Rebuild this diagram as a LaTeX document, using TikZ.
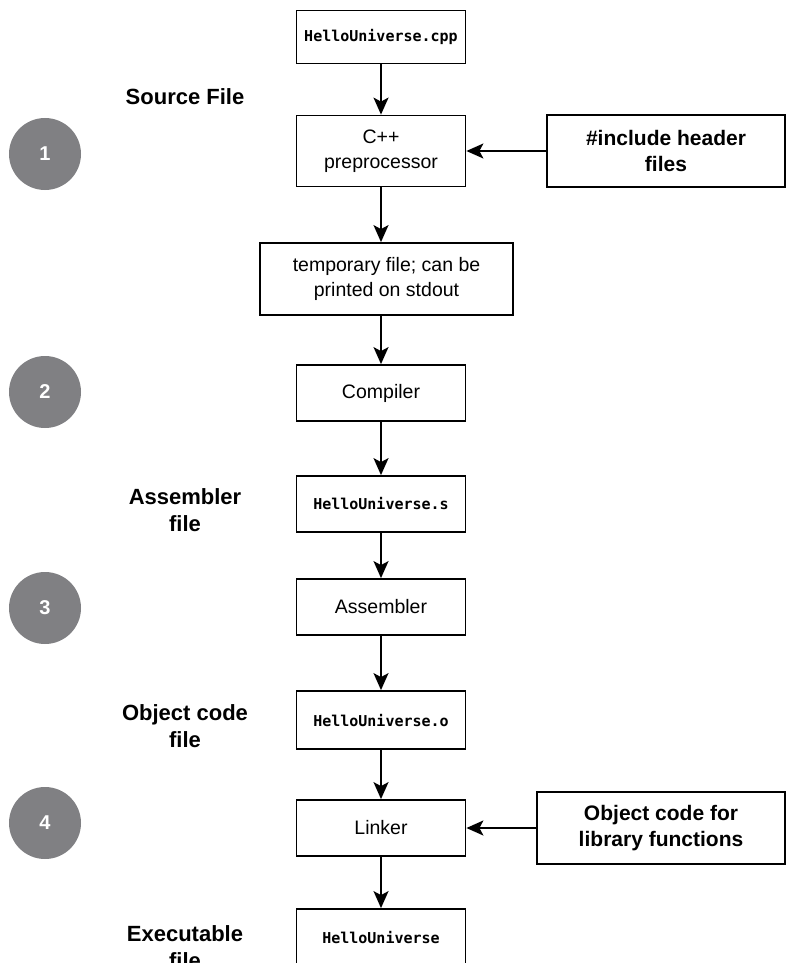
\documentclass[tikz,border=0pt]{standalone}
\usepackage{fontspec}
\setmainfont{Liberation Sans}
\newfontfamily\codefont{DejaVu Sans Mono}
\usetikzlibrary{arrows.meta}
\definecolor{stepgray}{RGB}{128,128,131}

\begin{document}
\begin{tikzpicture}[x=1pt,y=-1pt]
		\tikzset{box/.style = {shape=rectangle,draw,line width=1.8pt,minimum width=169pt,minimum height=56pt,inner sep=0pt,align=center,font=\fontsize{19.5}{25}\selectfont}}
		\tikzset{file/.style = {box,font=\codefont\bfseries\fontsize{15}{17}\selectfont}}
		\tikzset{extbox/.style = {box,font=\bfseries\fontsize{21}{26}\selectfont}}
		\tikzset{label/.style = {align=center,font=\bfseries\fontsize{22}{27}\selectfont}}
		\tikzset{stepno/.style = {shape=circle,fill=stepgray,text=white,minimum size=72pt,inner sep=0pt,font=\bfseries\fontsize{20}{20}\selectfont}}
		\tikzset{edge/.style = {line width=1.8pt,-{Stealth[length=17pt,width=15pt,inset=4pt]}}}
		
		\useasboundingbox (0,0) rectangle (787,963);
		\clip (0,0) rectangle (787,963);
		
		\node[file] (cpp) at (381,37) [minimum height=53pt] {HelloUniverse.cpp};
		\node[box] (pre) at (381,151) [minimum height=71pt] {C++\\preprocessor};
		\node[extbox] (inc) at (666,151) [minimum width=238pt,minimum height=72pt] {\#include header\\files};
		\node[box] (tmp) at (386.5,279) [minimum width=253pt,minimum height=72pt] {temporary file; can be\\printed on stdout};
		\node[box] (cmp) at (381,393) {Compiler};
		\node[file] (asm) at (381,504) {HelloUniverse.s};
		\node[box] (as) at (381,607) {Assembler};
		\node[file] (obj) at (381,720) [minimum height=58pt] {HelloUniverse.o};
		\node[box] (lnk) at (381,828) {Linker};
		\node[extbox] (lib) at (661,828) [minimum width=248pt,minimum height=72pt] {Object code for\\library functions};
		\node[file] (exe) at (381,937) {HelloUniverse};
		
		\node[label] (l1) at (185,97) {Source File};
		\node[label] (l2) at (185,510) {Assembler\\file};
		\node[label] (l3) at (185,726) {Object code\\file};
		\node[label] (l4) at (185,947) {Executable\\file};
		
		\node[stepno] (s1) at (45,154) {1};
		\node[stepno] (s2) at (45,392) {2};
		\node[stepno] (s3) at (45,608) {3};
		\node[stepno] (s4) at (45,823) {4};
		
		\draw[edge] (cpp) to (pre);
		\draw[edge] (inc) to (pre);
		\draw[edge] (pre) to (pre |- tmp.north);
		\draw[edge] (tmp.south -| cmp) to (cmp);
		\draw[edge] (cmp) to (asm);
		\draw[edge] (asm) to (as);
		\draw[edge] (as) to (obj);
		\draw[edge] (obj) to (lnk);
		\draw[edge] (lib) to (lnk);
		\draw[edge] (lnk) to (exe);
		\end{tikzpicture}
\end{document}
